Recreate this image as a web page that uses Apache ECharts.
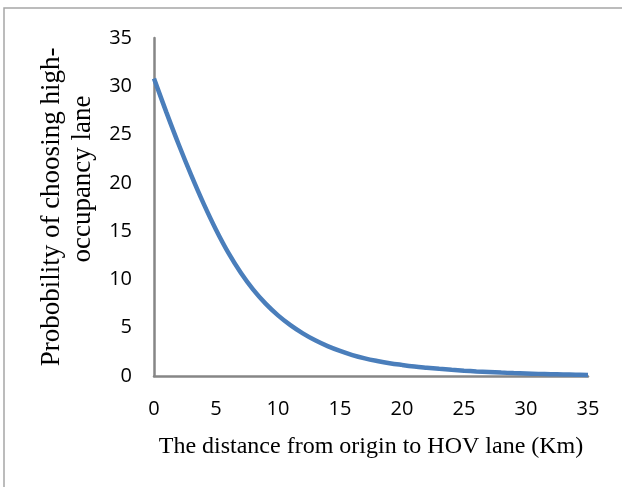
<!DOCTYPE html>
<html>
<head>
<meta charset="utf-8">
<script src="https://cdn.jsdelivr.net/npm/echarts@6/dist/echarts.min.js"></script>
<style>
  html, body { margin: 0; padding: 0; background: #fff; }
  #chart { width: 622px; height: 487px; }
</style>
</head>
<body>
<div id="chart"></div>
<script>
// distance from origin (km) and probability
const distance = [0, 1, 2, 3, 4, 5, 6, 7, 8, 9, 10, 11, 12, 13, 14, 15, 16, 17,
  18, 19, 20, 21, 22, 23, 24, 25, 26, 27, 28, 29, 30, 31, 32, 33, 34, 35];
const probability = [30.8, 27.3, 23.95, 20.8, 17.85, 15.15, 12.75, 10.7, 8.95, 7.5, 6.28,
  5.27, 4.42, 3.7, 3.1, 2.6, 2.17, 1.83, 1.56, 1.33, 1.15, 0.99, 0.86, 0.74, 0.64,
  0.55, 0.47, 0.41, 0.35, 0.3, 0.26, 0.22, 0.19, 0.16, 0.13, 0.11];

const xTitle = 'The distance from origin to HOV lane (Km)';
const yTitleLines = ['Probobility of choosing high-', 'occupancy lane'];

const chart = echarts.init(document.getElementById('chart'));
const axisColor = '#868686';
const tickFont = { fontFamily: 'Open Sans', fontSize: 20, color: '#000' };
const serif = { fontFamily: 'Liberation Serif', fontSize: 27, lineHeight: 31, color: '#000' };

chart.setOption({
  animation: false,
  graphic: [{
    type: 'rect',
    shape: { x: 4, y: 8, width: 800, height: 800 },
    style: { fill: 'none', stroke: '#a6a6a6', lineWidth: 1.5 },
    silent: true
  }],
  grid: { left: 154, right: 34, top: 38, bottom: 111 },
  xAxis: {
    type: 'value',
    min: 0, max: 35, interval: 5,
    name: xTitle,
    nameLocation: 'middle',
    nameGap: 59,
    nameTextStyle: { fontFamily: 'Liberation Serif', fontSize: 24, color: '#000' },
    axisLine: { lineStyle: { color: axisColor, width: 2.5 } },
    axisTick: { show: false },
    axisLabel: Object.assign({ margin: 23 }, tickFont),
    splitLine: { show: false }
  },
  yAxis: {
    type: 'value',
    min: 0, max: 35, interval: 5,
    name: '{a|' + yTitleLines[0] + '}\n{b|' + yTitleLines[1] + '}',
    nameLocation: 'middle',
    nameRotate: 90,
    nameGap: 54,
    nameTextStyle: Object.assign({
      rich: {
        a: Object.assign({}, serif),
        b: Object.assign({ padding: [0, 0, 0, 56] }, serif)
      }
    }, serif),
    axisLine: { show: true, lineStyle: { color: axisColor, width: 2.5 } },
    axisTick: { show: false },
    axisLabel: Object.assign({ margin: 22 }, tickFont),
    splitLine: { show: false }
  },
  series: [{
    type: 'line',
    data: distance.map((d, i) => [d, probability[i]]),
    smooth: 0.4,
    showSymbol: false,
    lineStyle: { color: '#4a7ebb', width: 4.5 }
  }]
});
</script>
</body>
</html>
